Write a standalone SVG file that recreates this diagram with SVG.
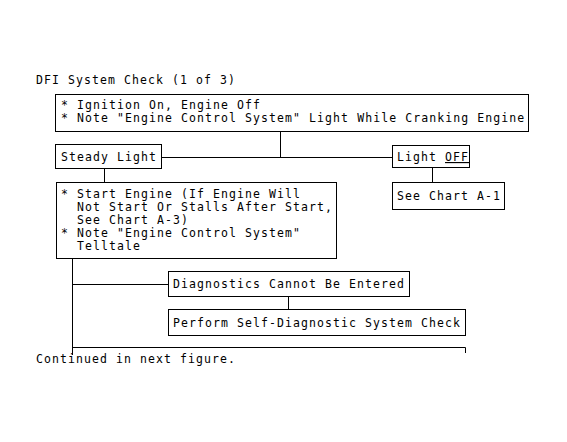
<svg xmlns="http://www.w3.org/2000/svg" width="567" height="442" viewBox="0 0 567 442">
<style>
text{font-family:"DejaVu Sans Mono","Liberation Mono",monospace;font-size:11.5px;letter-spacing:1.08px;fill:#000}
.box{fill:#fff;stroke:#000;stroke-width:1}
.ln{stroke:#000;stroke-width:1;fill:none}
</style>
<rect width="567" height="442" fill="#fff"/>
<text x="36" y="83.5">DFI System Check (1 of 3)</text>
<g id="connectors">
<path class="ln" d="M280.5 131.5V157.5M161.5 157.5H392.5M104.5 168.5V182.5M432.5 167.5V182.5M72.5 258.5V355M72.5 284.5H168.5M288.5 296.5V309.5M72.5 347.5H465.5V353"/>
</g>
<g id="n1">
<rect class="box" x="55.5" y="94.5" width="473" height="37"/>
<text x="61" y="108.5" xml:space="preserve">* Ignition On, Engine Off</text>
<text x="61" y="122" xml:space="preserve">* Note "Engine Control System" Light While Cranking Engine</text>
</g>
<g id="n2">
<rect class="box" x="55.5" y="144.5" width="106" height="24"/>
<text x="61" y="161">Steady Light</text>
</g>
<g id="n3">
<rect class="box" x="392.5" y="145.5" width="77" height="22"/>
<text x="397" y="161">Light <tspan style="text-decoration:underline">OFF</tspan></text>
</g>
<g id="n4">
<rect class="box" x="392.5" y="182.5" width="112" height="27"/>
<text x="397" y="199.5">See Chart A-1</text>
</g>
<g id="n5">
<rect class="box" x="56.5" y="182.5" width="280" height="76"/>
<text x="61" y="197.5" xml:space="preserve">* Start Engine (If Engine Will</text>
<text x="61" y="210.5" xml:space="preserve">  Not Start Or Stalls After Start,</text>
<text x="61" y="223.5" xml:space="preserve">  See Chart A-3)</text>
<text x="61" y="236.5" xml:space="preserve">* Note "Engine Control System"</text>
<text x="61" y="249.5" xml:space="preserve">  Telltale</text>
</g>
<g id="n6">
<rect class="box" x="168.5" y="271.5" width="241" height="25"/>
<text x="173" y="288">Diagnostics Cannot Be Entered</text>
</g>
<g id="n7">
<rect class="box" x="168.5" y="309.5" width="297" height="26"/>
<text x="173" y="326.5">Perform Self-Diagnostic System Check</text>
</g>
<text x="36" y="363">Continued in next figure.</text>
</svg>
